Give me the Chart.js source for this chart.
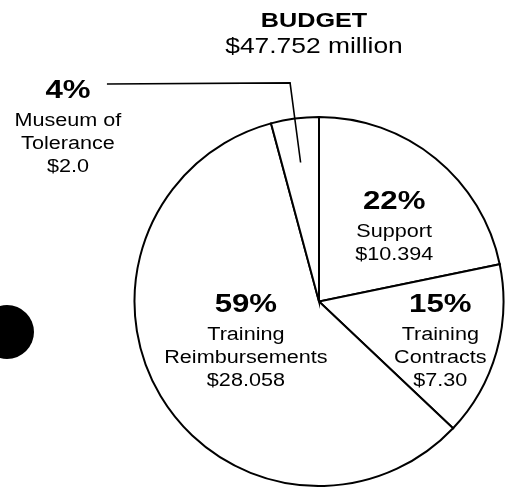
<!DOCTYPE html>
<html>
<head>
<meta charset="utf-8">
<title>Budget</title>
<script src="https://cdn.jsdelivr.net/npm/chart.js@4.4.1/dist/chart.umd.min.js"></script>
<style>
  html, body { margin: 0; padding: 0; background: #fff; }
  #wrap { position: relative; width: 506px; height: 487px; overflow: hidden; }
  #budget-chart { position: absolute; left: 0; top: 0; }
  /* hole punch from the scan */
  .punch { position: absolute; left: -20px; top: 305px; width: 54px; height: 54px; border-radius: 50%; background: #000; }
</style>
</head>
<body>
<div id="wrap">
  <canvas id="budget-chart" width="506" height="487"></canvas>
  <div class="punch"></div>
</div>
<script>
// Data (million $)
const categories = ['Support', 'Training Contracts', 'Training Reimbursements', 'Museum of Tolerance'];
const amounts = [10.394, 7.30, 28.058, 2.0];
const percents = ['22%', '15%', '59%', '4%'];
const labelLines = [
    ['Support', '$10.394'],
    ['Training', 'Contracts', '$7.30'],
    ['Training', 'Reimbursements', '$28.058'],
    ['Museum of', 'Tolerance', '$2.0']
];
const titleLines = ['BUDGET', '$47.752 million'];

// Where each label sits: [fraction of radius, shift from slice middle in degrees]
const labelPlace = [[0.645, 0], [0.66, -11], [0.40, 23], [1.75, -43.5]];

const FONT = '"Liberation Sans", Arial, Helvetica, sans-serif';
const STRETCH = 1.2;

// Draw text a bit wider, like the printed original
function wideText(ctx, text, x, y, font) {
    ctx.save();
    ctx.font = font;
    ctx.translate(x, y);
    ctx.scale(STRETCH, 1);
    ctx.textAlign = 'center';
    ctx.textBaseline = 'alphabetic';
    ctx.fillStyle = '#000';
    ctx.fillText(text, 0, 0);
    ctx.restore();
}

const labelPlugin = {
    id: 'sliceLabels',
    afterDraw(chart) {
        const ctx = chart.ctx;
        const arcs = chart.getDatasetMeta(0).data;
        if (!arcs.length) return;
        const cx = arcs[0].x;
        const cy = arcs[0].y;
        const R = arcs[0].outerRadius;

        // Title over the pie
        wideText(ctx, titleLines[0], cx - 5, 27, 'bold 21px ' + FONT);
        wideText(ctx, titleLines[1], cx - 5, 53, '22px ' + FONT);

        arcs.forEach(function(arc, i) {
            const mid = (arc.startAngle + arc.endAngle) / 2;
            const a = mid + labelPlace[i][1] * Math.PI / 180;
            const r = R * labelPlace[i][0];
            const x = cx + r * Math.cos(a);
            const y = cy + r * Math.sin(a);

            wideText(ctx, percents[i], x, y, 'bold 26px ' + FONT);
            labelLines[i].forEach(function(line, k) {
                wideText(ctx, line, x, y + 28 + k * 23, '18px ' + FONT);
            });

            // Leader line for the small slice outside the pie
            if (labelPlace[i][0] > 1) {
                const inX = cx + R * 0.76 * Math.cos(mid);
                const inY = cy + R * 0.76 * Math.sin(mid);
                const outX = cx + R * 1.195 * Math.cos(mid);
                const outY = cy + R * 1.195 * Math.sin(mid);
                ctx.save();
                ctx.strokeStyle = '#000';
                ctx.lineWidth = 1.6;
                ctx.beginPath();
                ctx.moveTo(x + 39, outY + 1);
                ctx.lineTo(outX, outY);
                ctx.lineTo(inX, inY);
                ctx.stroke();
                ctx.restore();
            }
        });
    }
};

document.addEventListener('DOMContentLoaded', function() {
    const ctx = document.getElementById('budget-chart').getContext('2d');

    new Chart(ctx, {
        type: 'pie',
        data: {
            labels: categories,
            datasets: [{
                data: amounts,
                backgroundColor: '#fff',
                borderColor: '#000',
                borderWidth: 2,
                hoverBorderWidth: 2,
                borderJoinStyle: 'miter'
            }]
        },
        options: {
            responsive: false,
            animation: false,
            events: [],
            layout: {
                padding: { left: 132, right: 0, top: 116, bottom: 0 }
            },
            plugins: {
                legend: { display: false },
                tooltip: { enabled: false },
                title: { display: false }
            }
        },
        plugins: [labelPlugin]
    });
});
</script>
</body>
</html>
